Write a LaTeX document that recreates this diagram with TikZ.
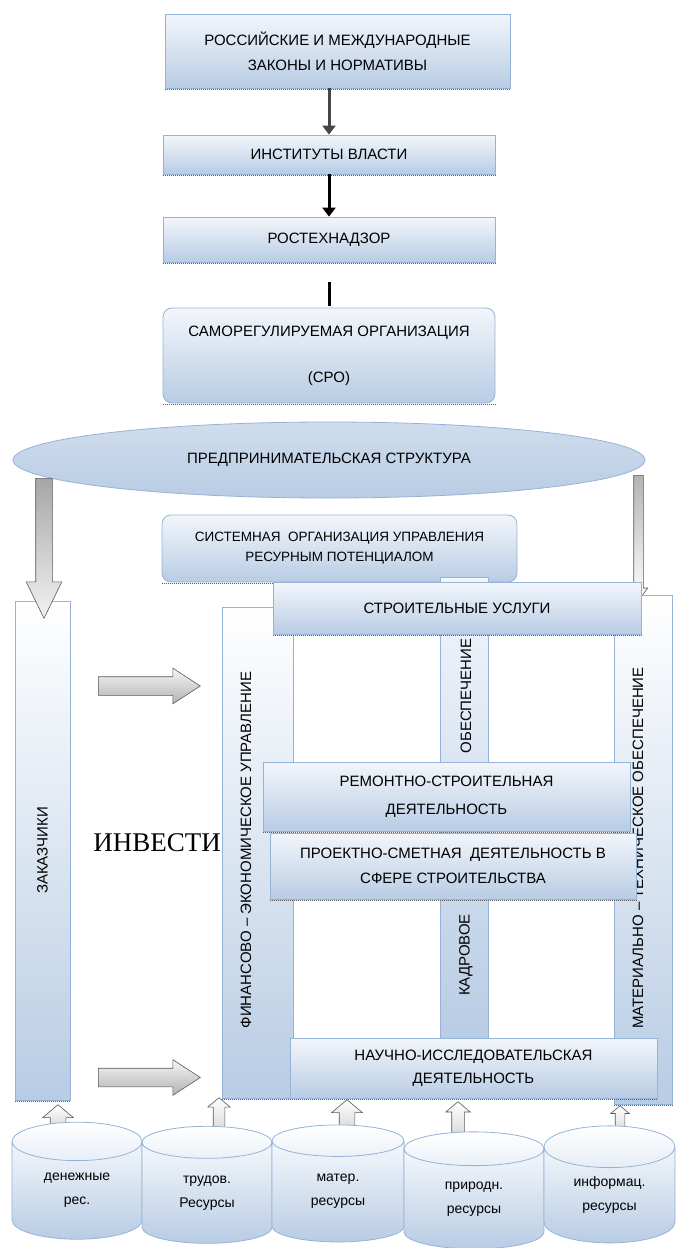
\documentclass[tikz,border=0pt]{standalone}
\usepackage{fontspec}
\setmainfont{Liberation Sans}
\newfontfamily\serifcyr{Liberation Serif}
\usetikzlibrary{shapes.geometric,shapes.arrows,arrows.meta}

\definecolor{boxtop}{RGB}{243,246,251}
\definecolor{boxbot}{RGB}{184,204,228}
\definecolor{boxline}{RGB}{149,179,215}
\definecolor{shadowgray}{RGB}{95,95,95}

\begin{document}
\begin{tikzpicture}[
                    x=1pt, y=-1pt,
                    shadowline/.style={
                        draw=shadowgray,
                        densely dotted,
                        line width=1pt
                    },
                    box/.style={
                        rectangle,
                        draw=boxline,
                        line width=0.8pt,
                        top color=boxtop,
                        bottom color=boxbot,
                        inner sep=0pt,
                        align=center,
                        font=\fontsize{15}{25}\selectfont,
                        append after command={
                            ([yshift=-1pt]\tikzlastnode.south west)
                            edge [shadowline] ([yshift=-1pt]\tikzlastnode.south east)
                        }
                    },
                    rbox/.style={
                        box,
                        rounded corners=9pt
                    },
                    vtext/.style={
                        rotate=90,
                        inner sep=0pt,
                        font=\fontsize{15}{15}\selectfont
                    },
                    bigarrow/.style={
                        single arrow,
                        anchor=tail,
                        draw=gray!70!black,
                        line width=0.6pt,
                        inner xsep=0pt
                    },
                    invarrow/.style={
                        bigarrow,
                        top color=gray!8,
                        bottom color=gray!60,
                        minimum height=102pt,
                        minimum width=35pt,
                        inner ysep=9pt,
                        single arrow head extend=8.5pt,
                        single arrow tip angle=66
                    },
                    resarrow/.style={
                        bigarrow,
                        rotate=90,
                        top color=white,
                        bottom color=gray!30,
                        inner ysep=#1/4,
                        single arrow tip angle=100,
                        minimum width=#1,
                        single arrow head extend=#1/4
                    },
                    resource/.style={
                        cylinder,
                        shape border rotate=90,
                        aspect=0.58,
                        draw=boxline,
                        line width=0.8pt,
                        top color=white,
                        bottom color=boxbot,
                        minimum height=117pt,
                        inner sep=0pt,
                        align=center,
                        font=\fontsize{14}{24}\selectfont
                    }
                ]
                \useasboundingbox (0,0) rectangle (675,1248);

                % state regulation
                \node (LAW) [box, minimum width=345pt, minimum height=74pt] at (337.5,51) {РОССИЙСКИЕ И МЕЖДУНАРОДНЫЕ\\ЗАКОНЫ И НОРМАТИВЫ};
                \node (INST) [box, minimum width=332pt, minimum height=39pt] at (329,154.5) {ИНСТИТУТЫ ВЛАСТИ};
                \node (RTN) [box, minimum width=332pt, minimum height=45pt] at (329,239.5) {РОСТЕХНАДЗОР};
                \node (SRO) [rbox, minimum width=332pt, minimum height=95pt] at (329,355.5) {САМОРЕГУЛИРУЕМАЯ ОРГАНИЗАЦИЯ\\[21pt](СРО)};

                \draw [-{Triangle[width=13pt,length=9pt]}, line width=3pt, gray!55!black] (INST.north |- LAW.south) -- (INST.north);
                \draw [-{Triangle[width=13pt,length=9pt]}, line width=3pt] (INST.south) -- (RTN.north);
                \draw [line width=3pt, shorten <=20pt, shorten >=2pt] (RTN.south) -- (SRO.north);

                % enterprise
                \node (ENT) [ellipse, draw=boxline, line width=0.8pt, top color=boxtop!40!boxbot, bottom color=boxbot, minimum width=632pt, minimum height=76pt, inner sep=0pt, font=\fontsize{15}{15}\selectfont] at (329,460) {ПРЕДПРИНИМАТЕЛЬСКАЯ СТРУКТУРА};
                \node (TN) [bigarrow, rotate=-90, top color=gray!60, bottom color=white, minimum height=125pt, minimum width=18pt, inner ysep=4.5pt, single arrow head extend=4.5pt, single arrow tip angle=74] at (638.5,475) {};
                \node (SYS) [rbox, minimum width=355pt, minimum height=67pt, font=\fontsize{13.5}{20}\selectfont] at (339.5,548.5) {СИСТЕМНАЯ \ ОРГАНИЗАЦИЯ УПРАВЛЕНИЯ\\РЕСУРНЫМ ПОТЕНЦИАЛОМ};

                % columns
                \node (ZAK) [box, minimum width=55pt, minimum height=499pt, top color=white] at (42.5,850.5) {};
                \node (FIN) [box, minimum width=71pt, minimum height=491pt, top color=white] at (257.5,852.5) {};
                \node (KAD) [box, minimum width=48pt, minimum height=463pt] at (464,808.5) {};
                \node (MAT) [box, minimum width=58pt, minimum height=509pt, top color=white] at (643,849.5) {};
                \node (ZAKL) [vtext] at (ZAK.center) {ЗАКАЗЧИКИ};
                \node (FINL) [vtext] at (246,850) {ФИНАНСОВО – ЭКОНОМИЧЕСКОЕ УПРАВЛЕНИЕ};
                \node (KADL1) [vtext] at (466,696) {ОБЕСПЕЧЕНИЕ};
                \node (KADL2) [vtext] at (466,955) {КАДРОВОЕ};
                \node (MATL) [vtext] at (638,848) {МАТЕРИАЛЬНО – ТЕХНИЧЕСКОЕ ОБЕСПЕЧЕНИЕ};

                \node (DN) [bigarrow, rotate=-90, top color=gray!70, bottom color=gray!10, minimum height=140pt, minimum width=35pt, inner ysep=8pt, single arrow head extend=9.5pt, single arrow tip angle=52] at (44,478) {};
                \node (IN1) [invarrow] at (98,686) {};
                \node (IN2) [invarrow] at (98,1077.5) {};
                \node (INV) [anchor=east, inner sep=0pt, font=\serifcyr\fontsize{27}{27}\selectfont] at (221,843) {ИНВЕСТИ};

                % activities
                \node (SRV) [box, minimum width=368pt, minimum height=52pt] at (457,608) {СТРОИТЕЛЬНЫЕ УСЛУГИ};
                \node (REM) [box, minimum width=367pt, minimum height=69pt, font=\fontsize{15}{28}\selectfont] at (446.5,796.5) {РЕМОНТНО-СТРОИТЕЛЬНАЯ\\ДЕЯТЕЛЬНОСТЬ};
                \node (PRJ) [box, minimum width=366pt, minimum height=66pt] at (453,866) {ПРОЕКТНО-СМЕТНАЯ \ ДЕЯТЕЛЬНОСТЬ В\\СФЕРЕ СТРОИТЕЛЬСТВА};
                \node (SCI) [box, minimum width=367pt, minimum height=60pt, font=\fontsize{15}{23}\selectfont] at (473.5,1068) {НАУЧНО-ИССЛЕДОВАТЕЛЬСКАЯ\\ДЕЯТЕЛЬНОСТЬ};

                % resources
                \node (U1) [resarrow=30pt, minimum height=23pt] at (58,1128) {};
                \node (U2) [resarrow=22pt, minimum height=33pt] at (219,1131) {};
                \node (U3) [resarrow=30pt, minimum height=29pt] at (347,1129) {};
                \node (U4) [resarrow=24pt, minimum height=35pt] at (458,1137) {};
                \node (U5) [resarrow=18pt, minimum height=27pt] at (620,1133) {};

                \node (C1) [resource, minimum width=130pt] at (77,1190.5) {денежные\\рес.};
                \node (C2) [resource, minimum width=130pt] at (207,1193) {трудов.\\Ресурсы};
                \node (C3) [resource, minimum width=132pt] at (338,1191.5) {матер.\\ресурсы};
                \node (C4) [resource, minimum width=140pt] at (474,1199) {природн.\\ресурсы};
                \node (C5) [resource, minimum width=131pt] at (609.5,1195) {информац.\\ресурсы};
            \end{tikzpicture}
\end{document}
